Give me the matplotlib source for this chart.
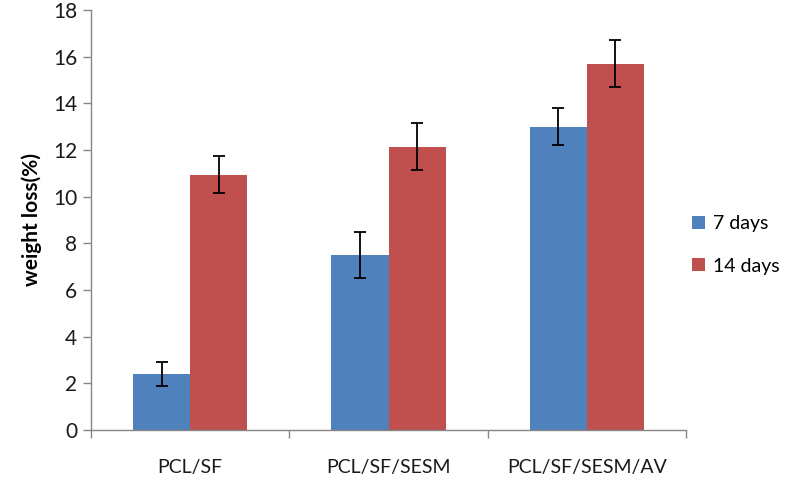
import matplotlib
matplotlib.use("Agg")
import matplotlib.pyplot as plt
import numpy as np

categories = ["PCL/SF", "PCL/SF/SESM", "PCL/SF/SESM/AV"]
series_names = ["7 days", "14 days"]
days7 = [2.4, 7.5, 13.0]
days7_err = [0.5, 1.0, 0.78]
days14 = [10.95, 12.15, 15.7]
days14_err = [0.78, 1.02, 1.0]
yticks = [0, 2, 4, 6, 8, 10, 12, 14, 16, 18]

colors = ["#4F81BD", "#C0504D"]
plt.rcParams['font.family'] = ['Lato', 'DejaVu Sans']

fig = plt.figure(figsize=(7.87, 4.8), dpi=100)
ax = fig.add_axes([91/787, 50/480, (686-91)/787, 420/480])

x = np.arange(len(categories))
w = 0.288
ekw = dict(ecolor="black", elinewidth=1.3, capthick=1.3, capsize=4)
ax.bar(x - w/2, days7, w, color=colors[0], label=series_names[0],
       yerr=days7_err, error_kw=ekw, zorder=2)
ax.bar(x + w/2, days14, w, color=colors[1], label=series_names[1],
       yerr=days14_err, error_kw=ekw, zorder=2)

ax.set_xlim(-0.5, len(categories) - 0.5)
ax.set_ylim(0, 18)
ax.set_yticks(yticks)
ax.set_yticklabels([str(t) for t in yticks], fontsize=15, color="#1a1a1a")
ax.set_xticks(x)
ax.set_xticklabels(categories, fontsize=14, color="#1a1a1a")
ax.set_xticks(np.arange(len(categories) + 1) - 0.5, minor=True)
ax.tick_params(axis="x", which="major", length=0, pad=21)
ax.tick_params(axis="x", which="minor", length=6, color="#868686", width=1)
ax.tick_params(axis="y", length=6, color="#868686", width=1, pad=4)

for s in ["top", "right"]:
    ax.spines[s].set_visible(False)
for s in ["left", "bottom"]:
    ax.spines[s].set_color("#868686")
    ax.spines[s].set_linewidth(1)

ax.set_ylabel("weight loss(%)", fontsize=15, fontweight="bold", labelpad=8)

leg = fig.legend(loc="center left", bbox_to_anchor=(692/787, 1 - 245/480),
                 frameon=False, fontsize=14, handlelength=0.65, handleheight=0.65,
                 handletextpad=0.45, labelspacing=1.3, borderpad=0,
                 borderaxespad=0)

fig.savefig("out.png", dpi=100)
